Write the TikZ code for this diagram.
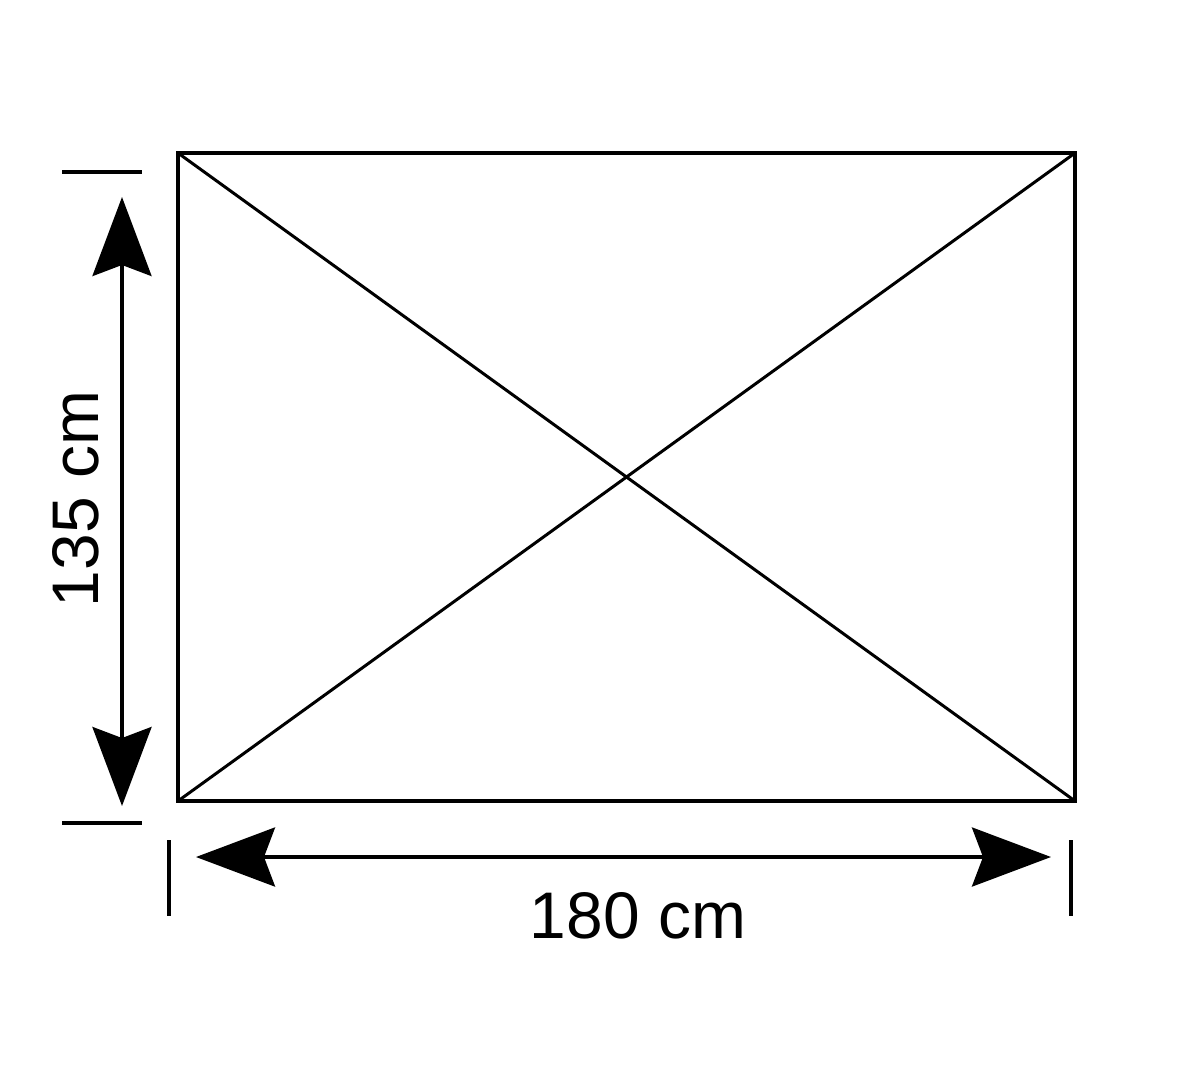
\documentclass[tikz,border=0pt]{standalone}
\usepackage{fontspec}
\setmainfont{Liberation Sans}
\usetikzlibrary{arrows.meta}
\begin{document}
\begin{tikzpicture}[x=0.02cm,y=-0.02cm,
  frame/.style={line width=2.4pt},
  diag/.style={line width=1.7pt},
  dimline/.style={line width=2.1pt},
  tick/.style={line width=2.1pt},
  dimarrow/.style={dimline,{Stealth[length=1.58cm,width=1.18cm,inset=0.22cm]}-{Stealth[length=1.58cm,width=1.18cm,inset=0.22cm]}},
  lbl/.style={font=\fontsize{37.5}{40}\selectfont, inner sep=0pt}]
\useasboundingbox[fill=white] (0,0) rectangle (1200,1080);
\coordinate (tl) at (178,153);
\coordinate (tr) at (1075,153);
\coordinate (br) at (1075,801);
\coordinate (bl) at (178,801);
\draw[frame] (tl) -- (tr) -- (br) -- (bl) -- cycle;
\draw[diag] (tl) -- (br);
\draw[diag] (tr) -- (bl);
% vertical dimension
\coordinate (vt1) at (62,172); \coordinate (vt2) at (142,172);
\coordinate (vb1) at (62,823); \coordinate (vb2) at (142,823);
\draw[tick] (vt1) -- (vt2);
\draw[tick] (vb1) -- (vb2);
\coordinate (va) at (122,197); \coordinate (vb) at (122,806);
\draw[dimarrow] (va) -- (vb);
\node[lbl, rotate=90] (h) at (76,499) {135 cm};
% horizontal dimension
\coordinate (hl1) at (169,840); \coordinate (hl2) at (169,916);
\coordinate (hr1) at (1071,840); \coordinate (hr2) at (1071,916);
\draw[tick] (hl1) -- (hl2);
\draw[tick] (hr1) -- (hr2);
\coordinate (ha) at (196,857); \coordinate (hb) at (1051,857);
\draw[dimarrow] (ha) -- (hb);
\node[lbl] (w) at (638,916) {180 cm};
\end{tikzpicture}
\end{document}
